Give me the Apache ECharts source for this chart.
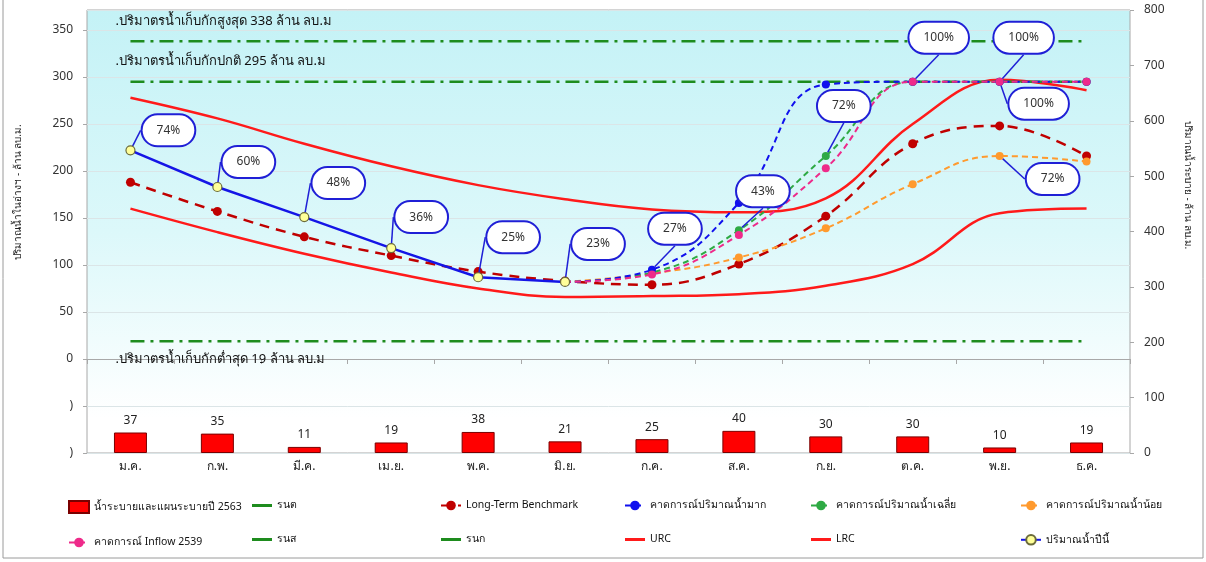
<!DOCTYPE html>
<html>
<head>
<meta charset="utf-8">
<script src="https://cdn.jsdelivr.net/npm/echarts@6/dist/echarts.min.js"></script>
<style>
html,body{margin:0;padding:0;background:#fff;}
#chart{width:1206px;height:562px;}
</style>
</head>
<body>
<div id="chart"></div>
<script>
// ---------- data ----------
const months = ['ม.ค.','ก.พ.','มี.ค.','เม.ย.','พ.ค.','มิ.ย.','ก.ค.','ส.ค.','ก.ย.','ต.ค.','พ.ย.','ธ.ค.'];
const release2563 = [37,35,11,19,38,21,25,40,30,30,10,19];
const longTermBenchmark = [188,157,130,110,93,83,79,101,152,229,248,216];
const forecastHigh = [null,null,null,null,null,82,95,166,292,295,295,295];
const forecastAvg  = [null,null,null,null,null,82,92,137,216,295,295,295];
const forecastLow  = [null,null,null,null,null,82,91,108,139,186,216,210];
const inflow2539   = [null,null,null,null,null,82,90,132,203,295,295,295];
const urc = [278,256,229,205,185,170,159,156,171,250,297,286];
const lrc = [160,135,112,92,75,66,67,69,78,101,155,160];
const currentYear = [222,183,151,118,87,82,null,null,null,null,null,null];
const maxStorage = 338, normalStorage = 295, minStorage = 19;
const maxLine = months.map(() => maxStorage);
const normalLine = months.map(() => normalStorage);
const minLine = months.map(() => minStorage);
const currentPct = ['74%','60%','48%','36%','25%','23%',null,null,null,null,null,null];
const highPct    = [null,null,null,null,null,null,'27%',null,null,null,'100%',null];
const avgPct     = [null,null,null,null,null,null,null,'43%','72%','100%',null,null];
const inflowPct  = [null,null,null,null,null,null,null,null,null,null,'100%',null];
const lowPct     = [null,null,null,null,null,null,null,null,null,null,'72%',null];
const leftTicks = {min:-100, interval:50};
const rightTicks = {min:0, max:800, interval:100};

// ---------- styling ----------
const FONT = 'Tahoma, "Noto Sans", "DejaVu Sans", sans-serif';
const GREEN = '#1e8c1e';
const bubbleOffsets = {
  current: {0:[38,-20],1:[31,-25],2:[34,-34],3:[30,-31],4:[35,-40],5:[33,-38]},
  high: {6:[23,-41],10:[24,-44]},
  avg: {7:[24,-39],8:[18,-50],9:[26,-44]},
  inflow: {10:[39,22]},
  low: {10:[53,23]}
};
const bubbleLabel = {
  position:'inside', color:'#333', fontSize:12, fontFamily:FONT,
  backgroundColor:'#fff', borderColor:'#1f1fd6', borderWidth:2,
  borderRadius:22, padding:[9,14]
};
function withLabels(values, labels){
  return values.map((v,i) => labels[i] ? {value:v, label:Object.assign({show:true, formatter:labels[i]}, bubbleLabel)} : v);
}
function layoutFor(key){
  return function(p){
    const o = bubbleOffsets[key][p.dataIndex];
    return o ? {dx:o[0], dy:o[1]} : {};
  };
}
const bubbleLine = {show:true, lineStyle:{color:'#1f1fd6', width:1.5}};

function refLine(name, data, text, below){
  return {
    name, type:'line', data: data.map((v,i)=> i===0 ? {value:v, label:{show:true, formatter:text}} : v),
    symbol:'circle', symbolSize:1, itemStyle:{color:'rgba(0,0,0,0)'},
    lineStyle:{color:GREEN, width:2.5, type:[14,6,3,6]},
    label:{position: below ? 'bottom' : 'top', align:'left', offset: below ? [-15,6] : [-15,-8],
      color:'#111', fontSize:13, fontFamily:FONT},
    z:3
  };
}
function forecast(name, data, color, labels, key){
  return {
    name, type:'line', smooth:0.45, connectNulls:false,
    data: withLabels(data, labels),
    symbol:'circle', symbolSize:8, showSymbol:true,
    itemStyle:{color}, lineStyle:{color, width:2, type:[6,4]},
    labelLayout: layoutFor(key), labelLine: bubbleLine, z:4
  };
}

const chart = echarts.init(document.getElementById('chart'));
const thinBar = 'path://M0,0 L20,0 L20,3 L0,3 Z';
const legendBase = {orient:'vertical', top:500, padding:0, itemGap:23, itemWidth:20, itemHeight:12,
  textStyle:{fontSize:10.5, color:'#111', fontFamily:FONT}, selectedMode:false};
const greenItem = n => ({name:n, icon:thinBar, itemStyle:{color:GREEN}});
const redItem = n => ({name:n, icon:thinBar, itemStyle:{color:'#ff1a1a'}});

chart.setOption({
  animation:false,
  textStyle:{fontFamily:FONT},
  grid:{left:87, right:76, top:10, bottom:109, show:true, borderColor:'#a8a8a8', borderWidth:1,
    backgroundColor:{type:'linear', x:0, y:0, x2:0, y2:1, colorStops:[
      {offset:0, color:'#c4f2f6'}, {offset:0.5, color:'#dcf8fa'}, {offset:0.92, color:'#ffffff'}]}},
  graphic:[
    {type:'rect', shape:{x:3, y:-2, width:1200, height:560}, style:{fill:'none', stroke:'#9a9a9a', lineWidth:1}, silent:true},
    {type:'text', x:18, y:192, rotation:Math.PI/2, style:{text:'ปริมาณน้ำในอ่างฯ - ล้าน ลบ.ม.', fill:'#222', font:'10px '+FONT, textAlign:'center', textVerticalAlign:'middle'}},
    {type:'text', x:1188, y:185, rotation:-Math.PI/2, style:{text:'ปริมาณน้ำระบาย - ล้าน ลบ.ม.', fill:'#222', font:'10px '+FONT, textAlign:'center', textVerticalAlign:'middle'}}
  ],
  legend:[
    Object.assign({left:68, data:[{name:'น้ำระบายและแผนระบายปี 2563', icon:'rect'}, 'คาดการณ์ Inflow 2539']}, legendBase),
    Object.assign({left:252, data:[greenItem('รนต'), greenItem('รนส')]}, legendBase),
    Object.assign({left:440, data:['Long-Term Benchmark', greenItem('รนก')]}, legendBase),
    Object.assign({left:624, data:['คาดการณ์ปริมาณน้ำมาก', redItem('URC')]}, legendBase),
    Object.assign({left:810, data:['คาดการณ์ปริมาณน้ำเฉลี่ย', redItem('LRC')]}, legendBase),
    Object.assign({left:1020, data:['คาดการณ์ปริมาณน้ำน้อย', 'ปริมาณน้ำปีนี้']}, legendBase)
  ],
  xAxis:{type:'category', data:months, boundaryGap:true,
    axisLine:{lineStyle:{color:'#a8a8a8'}}, axisTick:{show:true, length:5, lineStyle:{color:'#a8a8a8'}},
    axisLabel:{color:'#222', fontSize:12, margin:8, fontFamily:FONT}},
  yAxis:[
    {type:'value', min:leftTicks.min, max:371.3, interval:leftTicks.interval,
      axisLine:{show:false}, axisTick:{show:true, length:4, lineStyle:{color:'#a8a8a8'}},
      splitLine:{lineStyle:{color:'#dbe5e7'}},
      axisLabel:{color:'#333', fontSize:12, margin:14, fontFamily:FONT, showMaxLabel:false,
        formatter:v => v < 0 ? ')' : (v > 350 ? '' : String(v))}},
    {type:'value', min:rightTicks.min, max:rightTicks.max, interval:rightTicks.interval,
      axisLine:{show:false}, axisTick:{show:true, length:4, lineStyle:{color:'#a8a8a8'}},
      splitLine:{show:false},
      axisLabel:{color:'#333', fontSize:12, margin:14, fontFamily:FONT}}
  ],
  series:[
    {name:'น้ำระบายและแผนระบายปี 2563', type:'bar', yAxisIndex:1, data:release2563, barWidth:33,
      itemStyle:{color:'#ff0000', borderColor:'#7a0000', borderWidth:1},
      label:{show:true, position:'top', color:'#222', fontSize:12, distance:6, fontFamily:FONT}, z:2},
    refLine('รนต', minLine, '.ปริมาตรน้ำเก็บกักต่ำสุด 19 ล้าน ลบ.ม', true),
    {name:'Long-Term Benchmark', type:'line', smooth:0.4, data:longTermBenchmark,
      symbol:'circle', symbolSize:9, itemStyle:{color:'#c00000'}, lineStyle:{color:'#c00000', width:2.5, type:[10,7]}, z:3},
    {name:'URC', type:'line', smooth:0.4, data:urc, symbol:'none', lineStyle:{color:'#ff1a1a', width:2.5}, itemStyle:{color:'#ff1a1a'}, z:3},
    {name:'LRC', type:'line', smooth:0.4, data:lrc, symbol:'none', lineStyle:{color:'#ff1a1a', width:2.5}, itemStyle:{color:'#ff1a1a'}, z:3},
    refLine('รนส', maxLine, '.ปริมาตรน้ำเก็บกักสูงสุด 338 ล้าน ลบ.ม', false),
    refLine('รนก', normalLine, '.ปริมาตรน้ำเก็บกักปกติ 295 ล้าน ลบ.ม', false),
    forecast('คาดการณ์ปริมาณน้ำน้อย', forecastLow, '#ff9a2e', lowPct, 'low'),
    forecast('คาดการณ์ปริมาณน้ำเฉลี่ย', forecastAvg, '#2eaa44', avgPct, 'avg'),
    forecast('คาดการณ์ปริมาณน้ำมาก', forecastHigh, '#1010ee', highPct, 'high'),
    forecast('คาดการณ์ Inflow 2539', inflow2539, '#ee2a8a', inflowPct, 'inflow'),
    {name:'ปริมาณน้ำปีนี้', type:'line', data:withLabels(currentYear, currentPct),
      symbol:'circle', symbolSize:9, itemStyle:{color:'#ffff99', borderColor:'#6b6b3a', borderWidth:1.2},
      lineStyle:{color:'#1515e6', width:2.5},
      labelLayout: layoutFor('current'), labelLine: bubbleLine, z:6}
  ]
});
</script>
</body>
</html>
